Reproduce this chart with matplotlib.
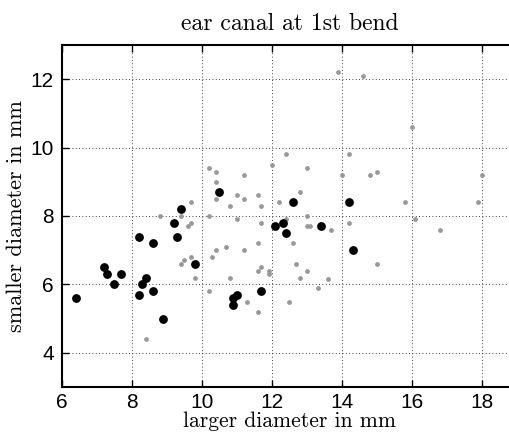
import matplotlib
matplotlib.use('Agg')
import matplotlib.pyplot as plt

# ear canal at first bend: larger vs smaller diameter (mm)
big_x = [10.5, 9.4, 9.2, 9.3, 8.2, 8.6, 9.8, 7.2, 7.3, 7.7, 7.5, 8.4, 8.3, 8.2,
         8.6, 6.4, 8.9, 11.0, 10.9, 10.9, 11.7, 12.1, 12.3, 12.4, 12.6, 13.4,
         14.2, 14.3]
big_y = [8.7, 8.2, 7.8, 7.4, 7.4, 7.2, 6.6, 6.5, 6.3, 6.3, 6.0, 6.2, 6.0, 5.7,
         5.8, 5.6, 5.0, 5.7, 5.6, 5.4, 5.8, 7.7, 7.8, 7.5, 8.4, 7.7,
         8.4, 7.0]

small_x = [10.4, 11.0, 11.2, 11.6, 11.7, 10.8, 12.2, 9.7, 8.8, 9.4, 10.2, 9.6,
           9.7, 11.0, 11.7, 12.4, 11.6, 11.2, 10.7, 10.4, 10.3, 9.7, 9.5, 9.4,
           9.8, 10.8, 11.6, 11.7, 11.9, 11.9, 10.2, 11.3, 11.6, 8.4, 12.5,
           12.8, 15.8, 17.9, 13.0, 13.0, 13.1, 13.7, 14.2, 16.1, 16.8, 12.6,
           12.7, 13.0, 12.8, 13.6, 13.3, 15.0,
           10.2, 10.4, 10.4, 11.2, 12.0, 12.4, 13.0, 13.9, 14.6, 16.0, 14.2,
           14.0, 14.8, 15.0, 18.0]
small_y = [8.5, 8.6, 8.5, 8.6, 8.3, 8.3, 8.4, 8.4, 8.0, 8.0, 8.0, 7.7,
           7.8, 7.9, 7.8, 7.9, 7.2, 7.0, 7.1, 7.0, 6.8, 6.8, 6.7, 6.6,
           6.2, 6.2, 6.4, 6.5, 6.4, 6.3, 5.8, 5.5, 5.2, 4.4, 5.5,
           8.7, 8.4, 8.4, 8.0, 7.7, 7.7, 7.6, 7.8, 7.9, 7.6, 7.2,
           6.6, 6.4, 6.2, 6.15, 5.9, 6.6,
           9.4, 9.3, 9.0, 9.2, 9.5, 9.8, 9.4, 12.2, 12.1, 10.6, 9.8,
           9.2, 9.2, 9.3, 9.2]

serif = 'cmr10'
tick_font = 'Liberation Sans'

fig = plt.figure(figsize=(5.10, 4.34), dpi=100)
ax = fig.add_axes([62 / 510, 1 - 387 / 434, 455 / 510, 342 / 434])

ax.scatter(small_x, small_y, s=12, color='#999999', linewidths=0, zorder=3)
ax.scatter(big_x, big_y, s=40, color='black', linewidths=0, zorder=4)

ax.set_xlim(6, 19)
ax.set_ylim(3, 13)
ax.set_xticks([6, 8, 10, 12, 14, 16, 18])
ax.set_yticks([4, 6, 8, 10, 12])
ax.grid(True, linestyle=(0, (1, 3)), color='black', linewidth=0.6)
ax.set_axisbelow(True)
ax.tick_params(direction='in', top=True, right=True, length=5, width=1,
               labelsize=15)
ax.tick_params(axis='x', pad=4)
ax.tick_params(axis='y', pad=6)
for lab in ax.get_xticklabels() + ax.get_yticklabels():
    lab.set_fontfamily(tick_font)
for sp in ax.spines.values():
    sp.set_linewidth(1.5)

ax.set_title('ear canal at 1st bend', fontfamily=serif, fontsize=17, pad=11)
ax.set_xlabel('larger diameter in mm', fontfamily=serif, fontsize=15.5,
              labelpad=0)
ax.set_ylabel('smaller diameter in mm', fontfamily=serif, fontsize=16,
              labelpad=3)

fig.savefig('out.png', dpi=100)
